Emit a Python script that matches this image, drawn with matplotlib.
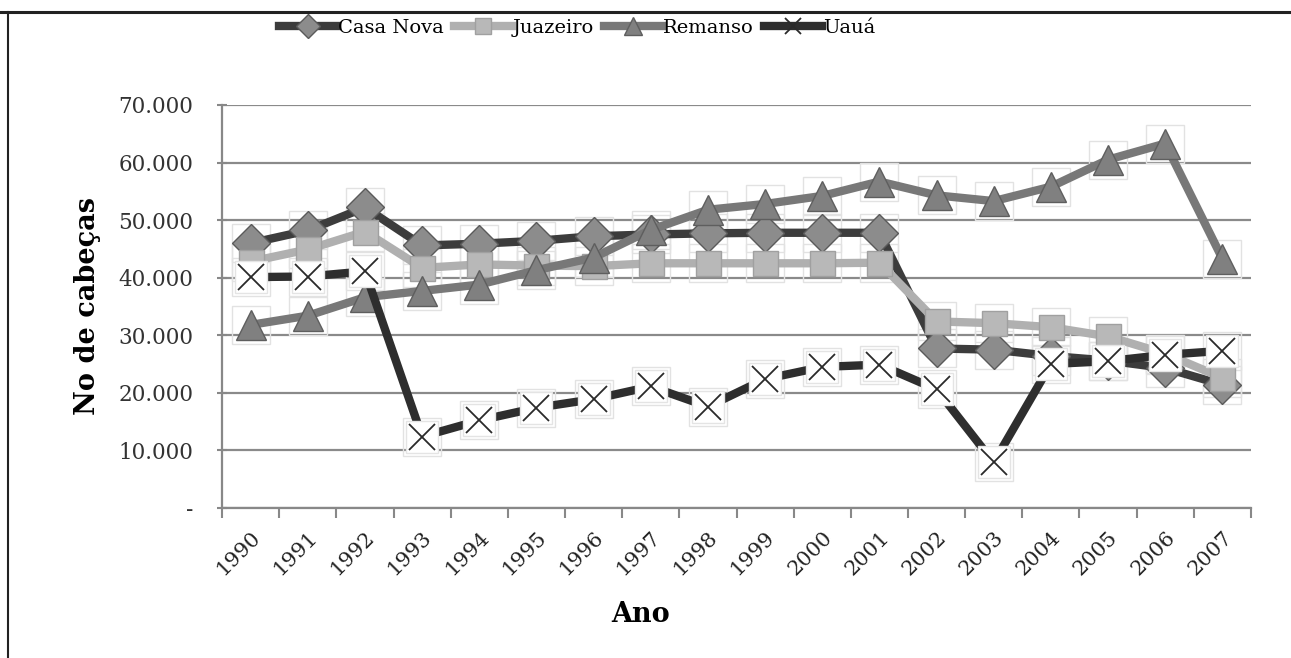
import numpy as np
import matplotlib
matplotlib.use('Agg')
import matplotlib.pyplot as plt
from matplotlib.ticker import FuncFormatter
from matplotlib.lines import Line2D

anos = ['1990', '1991', '1992', '1993', '1994', '1995', '1996', '1997', '1998',
        '1999', '2000', '2001', '2002', '2003', '2004', '2005', '2006', '2007']

casa_nova = [46000, 48200, 52200, 45600, 45900, 46400, 47200, 47500, 47700,
             47800, 47800, 47800, 27700, 27500, 26400, 25600, 24300, 21400]
juazeiro = [42800, 44900, 48000, 41700, 42300, 42100, 42000, 42500, 42500,
            42500, 42500, 42600, 32400, 32100, 31400, 29800, 26800, 22600]
remanso = [31800, 33400, 36600, 37700, 38800, 41300, 43500, 48300, 51800,
           52800, 54200, 56700, 54300, 53300, 55800, 60500, 63300, 43300]
uaua = [40100, 40200, 41100, 12400, 15200, 17400, 18900, 21100, 17600,
        22400, 24500, 24900, 20600, 7900, 25000, 25500, 26600, 27300]

plt.rcParams['font.family'] = ['DejaVu Serif']

fig = plt.figure(figsize=(12.91, 6.58), dpi=100)
ax = fig.add_axes([0.172, 0.228, 0.797, 0.6125])

x = np.arange(len(anos))

# faint frames behind markers
for vals in (casa_nova, juazeiro, remanso, uaua):
    ax.plot(x, vals, linestyle='none', marker='s', markersize=28,
            markerfacecolor='none', markeredgecolor='#e2e2e2',
            markeredgewidth=1.0, zorder=2)

ax.plot(x, casa_nova, color='#3c3c3c', lw=6, marker='D', markersize=19,
        markerfacecolor='#8c8c8c', markeredgecolor='#5a5a5a',
        markeredgewidth=1.0, zorder=3, label='Casa Nova')
ax.plot(x, juazeiro, color='#b0b0b0', lw=6, marker='s', markersize=18,
        markerfacecolor='#b8b8b8', markeredgecolor='#a0a0a0',
        markeredgewidth=1.0, zorder=4, label='Juazeiro')
ax.plot(x, remanso, color='#787878', lw=6, marker='^', markersize=22,
        markerfacecolor='#808080', markeredgecolor='#5e5e5e',
        markeredgewidth=1.0, zorder=5, label='Remanso')
ax.plot(x, uaua, color='#2e2e2e', lw=6, zorder=6)
ax.plot(x, uaua, linestyle='none', marker='s', markersize=23,
        markerfacecolor='white', markeredgecolor='#e4e4e4',
        markeredgewidth=1.0, zorder=7)
ax.plot(x, uaua, linestyle='none', marker='x', markersize=19,
        markeredgecolor='#2a2a2a', markeredgewidth=1.3, zorder=8)

ax.set_xlim(-0.5, len(anos) - 0.5)
ax.set_ylim(0, 70000)
ax.set_yticks(np.arange(0, 70001, 10000))
ax.yaxis.set_major_formatter(FuncFormatter(
    lambda v, p: '-' if v == 0 else '{:,.0f}'.format(v).replace(',', '.')))
ax.set_xticks(x)
ax.set_xticklabels(anos, rotation=45, ha='right', rotation_mode='anchor')
ax.set_xticks(np.arange(-0.5, len(anos), 1), minor=True)
ax.tick_params(axis='x', which='major', length=0, labelsize=15,
               labelcolor='#222222', pad=14)
ax.tick_params(axis='x', which='minor', length=7, color='#888888', width=1.5)
ax.tick_params(axis='y', length=7, color='#888888', width=1.5, labelsize=15.5,
               labelcolor='#333333', direction='inout', pad=17)

ax.grid(axis='y', color='#8a8a8a', lw=1.6)
ax.set_axisbelow(True)
for s in ('top', 'right'):
    ax.spines[s].set_visible(False)
for s in ('left', 'bottom'):
    ax.spines[s].set_color('#888888')
    ax.spines[s].set_linewidth(1.6)

ax.set_xlabel('Ano', fontsize=19.5, fontweight='bold')
ax.xaxis.set_label_coords(0.407, -0.232)
ax.set_ylabel('No de cabeças', fontsize=19.5, fontweight='bold', labelpad=13)

handles = [
    Line2D([], [], color='#3c3c3c', lw=6, marker='D', markersize=12,
           markerfacecolor='#8c8c8c', markeredgecolor='#5a5a5a'),
    Line2D([], [], color='#b0b0b0', lw=6, marker='s', markersize=12,
           markerfacecolor='#b8b8b8', markeredgecolor='#a0a0a0'),
    Line2D([], [], color='#787878', lw=6, marker='^', markersize=13,
           markerfacecolor='#808080', markeredgecolor='#5e5e5e'),
    Line2D([], [], color='#2e2e2e', lw=6, marker='x', markersize=12,
           markeredgecolor='#2a2a2a', markeredgewidth=1.3),
]
fig.legend(handles, ['Casa Nova', 'Juazeiro', 'Remanso', 'Uauá'],
           loc='center', bbox_to_anchor=(0.447, 0.957), ncol=4,
           frameon=False, fontsize=14, handlelength=3.0, handletextpad=0.05,
           columnspacing=0.5)

# outer frame (top and left edges)
fig.add_artist(Line2D([0.0, 1.0], [0.982, 0.982], color='#222222', lw=2.2,
                      transform=fig.transFigure))
fig.add_artist(Line2D([0.0065, 0.0065], [0.0, 0.982], color='#222222', lw=1.5,
                      transform=fig.transFigure))

fig.savefig('out.png', dpi=100)
